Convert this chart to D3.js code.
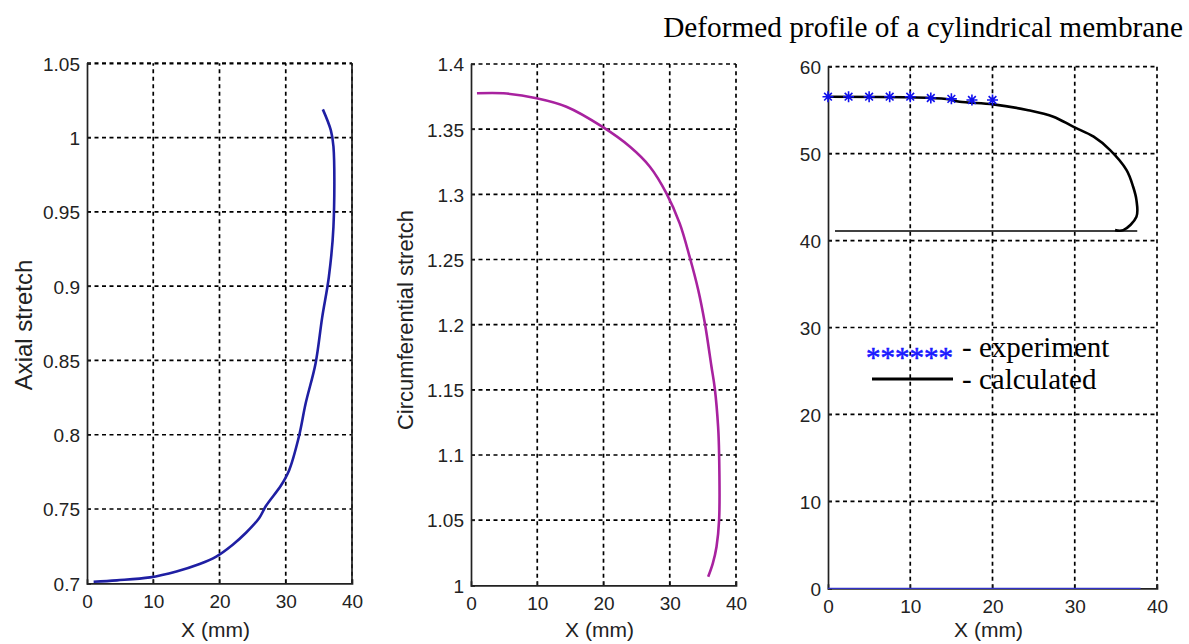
<!DOCTYPE html>
<html><head><meta charset="utf-8">
<script src="https://cdn.jsdelivr.net/npm/d3@7"></script>
<style>
body{margin:0;background:#fff;}
svg{display:block;}
.tick text{font-family:"Liberation Sans",Arial,sans-serif;}
</style></head>
<body><svg id="c" width="1189" height="644"></svg>
<script>
// ---- data ----
const xTicks = [0,10,20,30,40];
const axialTicks = [0.7,0.75,0.8,0.85,0.9,0.95,1,1.05];
const circTicks = [1,1.05,1.1,1.15,1.2,1.25,1.3,1.35,1.4];
const profTicks = [0,10,20,30,40,50,60];

const axialX = [1.0,4.5,9.5,13.5,17.0,19.5,22.0,24.0,26.0,27.0,29.3,30.5,32.0,33.0,34.5,35.5,36.5,37.2,37.2,36.8,35.6];
const axialY = [0.701,0.702,0.704,0.708,0.713,0.718,0.726,0.734,0.744,0.752,0.766,0.776,0.799,0.821,0.848,0.879,0.906,0.940,0.994,1.005,1.019];

const circX = [0.9,4.9,9.9,14.4,19.8,24.0,27.0,29.5,31.5,33.0,34.3,35.3,36.3,36.8,37.3,37.45,37.45,37.06,36.5,35.8];
const circY = [1.3775,1.3775,1.3737,1.3672,1.3519,1.3365,1.3212,1.3008,1.2777,1.2521,1.2266,1.201,1.1677,1.151,1.1216,1.101,1.05,1.0296,1.0168,1.0065];

const profX = [0.2,10.0,14.4,16.0,20.1,24.2,27.4,29.8,32.3,34.3,36.3,37.1,37.5,37.5,35.9,34.9];
const profY = [56.55,56.48,56.28,55.97,55.67,55.02,54.25,53.1,51.95,50.41,48.11,46.19,44.66,42.74,41.2,41.2];

const baseX = [0.85,37.6];
const baseY = [41.1,41.1];
const zeroX = [0,38];
const zeroY = [0,0];

const expX = [0,2.5,5,7.5,10,12.5,15,17.5,20];
const expY = [56.55,56.55,56.55,56.55,56.55,56.4,56.3,56.17,56.17];

const titleText = "Deformed profile of a cylindrical membrane";
const legendExp = "- experiment";
const legendCalc = "- calculated";

// ---- drawing ----
const svg = d3.select("#c");
const sans = '"Liberation Sans",Arial,sans-serif';
const serif = '"Liberation Serif","Times New Roman",serif';

function panel(cfg){
  const x = d3.scaleLinear().domain([0,40]).range([cfg.x0,cfg.x1]);
  const y = d3.scaleLinear().domain(cfg.yDom).range([cfg.yBot,cfg.yTop]);
  const g = svg.append("g");
  g.selectAll(".gx").data(xTicks.filter(t=>t>0)).enter().append("line")
    .attr("x1",d=>x(d)).attr("x2",d=>x(d)).attr("y1",cfg.yBot).attr("y2",cfg.yTop)
    .attr("stroke","#000").attr("stroke-width",1.7).attr("stroke-dasharray","4,3.5");
  g.selectAll(".gy").data(cfg.yTicks.filter(t=>t>cfg.yDom[0])).enter().append("line")
    .attr("x1",cfg.x0).attr("x2",cfg.x1).attr("y1",d=>y(d)).attr("y2",d=>y(d))
    .attr("stroke","#000").attr("stroke-width",d=>(d===cfg.yDom[1]&&cfg.boxRight)?2.3:1.7).attr("stroke-dasharray","4,3.5");
  const ax = g.append("g").attr("transform",`translate(0,${cfg.yBot})`)
    .call(d3.axisBottom(x).tickValues(xTicks).tickSize(-4).tickPadding(11).tickFormat(d3.format("d")));
  const ay = g.append("g").attr("transform",`translate(${cfg.x0},0)`)
    .call(d3.axisLeft(y).tickValues(cfg.yTicks).tickSize(-4).tickPadding(7).tickFormat(d=>String(+d.toFixed(2))));
  [ax,ay].forEach(a=>{
    a.select(".domain").attr("stroke","#222").attr("stroke-width",1.7);
    a.selectAll(".tick line").attr("stroke","#222");
    a.selectAll(".tick text").attr("font-size",19).attr("fill","#222").attr("font-family",sans);
  });
  ay.selectAll(".tick text").attr("dy","0.36em");
  if(cfg.boxRight){
    g.append("line").attr("x1",cfg.x1).attr("x2",cfg.x1).attr("y1",cfg.yTop).attr("y2",cfg.yBot)
      .attr("stroke","#222").attr("stroke-width",1.7);
  }
  g.append("text").attr("x",(cfg.x0+cfg.x1)/2-4).attr("y",637).attr("text-anchor","middle")
    .attr("font-family",sans).attr("font-size",21).attr("fill","#222").text("X (mm)");
  if(cfg.ylabel){
    g.append("text").attr("transform",`translate(${cfg.ylx},${cfg.yly}) rotate(-90)`).attr("text-anchor","middle")
      .attr("font-family",sans).attr("font-size",cfg.ylfs).attr("fill","#222").text(cfg.ylabel);
  }
  return {g,x,y};
}

const line = (sx,sy)=>d3.line().x(d=>sx(d[0])).y(d=>sy(d[1])).curve(d3.curveCatmullRom.alpha(0.5));
const straight = (sx,sy)=>d3.line().x(d=>sx(d[0])).y(d=>sy(d[1]));

const p1 = panel({x0:87,x1:352,yTop:63.3,yBot:583.3,yDom:[0.7,1.05],yTicks:axialTicks,boxRight:true,
  ylabel:"Axial stretch",ylx:32,yly:325,ylfs:24});
p1.g.append("path").datum(axialX.map((v,i)=>[v,axialY[i]])).attr("d",line(p1.x,p1.y))
  .attr("fill","none").attr("stroke","#1f1fa3").attr("stroke-width",2.6);

const p2 = panel({x0:471,x1:736,yTop:64,yBot:585.3,yDom:[1,1.4],yTicks:circTicks,boxRight:false,
  ylabel:"Circumferential stretch",ylx:413,yly:320,ylfs:22});
p2.g.append("path").datum(circX.map((v,i)=>[v,circY[i]])).attr("d",line(p2.x,p2.y))
  .attr("fill","none").attr("stroke","#a8229f").attr("stroke-width",2.6);

const p3 = panel({x0:828,x1:1157,yTop:66.7,yBot:588.3,yDom:[0,60],yTicks:profTicks,boxRight:false});
p3.g.append("path").datum(zeroX.map((v,i)=>[v,zeroY[i]])).attr("d",straight(p3.x,p3.y))
  .attr("fill","none").attr("stroke","#3232c8").attr("stroke-width",1.2);
p3.g.append("path").datum(baseX.map((v,i)=>[v,baseY[i]])).attr("d",straight(p3.x,p3.y))
  .attr("fill","none").attr("stroke","#000").attr("stroke-width",1.6);
p3.g.append("path").datum(profX.map((v,i)=>[v,profY[i]])).attr("d",line(p3.x,p3.y))
  .attr("fill","none").attr("stroke","#000").attr("stroke-width",2.6);
const r = 5.5;
const star = `M${-r},0L${r},0M0,${-r}L0,${r}M${-r*0.7},${-r*0.7}L${r*0.7},${r*0.7}M${-r*0.7},${r*0.7}L${r*0.7},${-r*0.7}`;
p3.g.selectAll(".star").data(expX.map((v,i)=>[v,expY[i]])).enter().append("path")
  .attr("transform",d=>`translate(${p3.x(d[0])},${p3.y(d[1])})`).attr("d",star)
  .attr("stroke","#1010ee").attr("stroke-width",1.6).attr("fill","none");

svg.append("text").attr("x",1183).attr("y",37).attr("text-anchor","end")
  .attr("font-family",serif).attr("font-size",29.3).attr("fill","#000").text(titleText);

svg.append("text").attr("x",866).attr("y",367).attr("font-family",serif).attr("font-size",29)
  .attr("fill","#1a1aff").attr("stroke","#1a1aff").attr("stroke-width",0.6).text("******");
svg.append("text").attr("x",962).attr("y",357).attr("font-family",serif).attr("font-size",29)
  .attr("fill","#000").text(legendExp);
svg.append("line").attr("x1",872).attr("x2",953).attr("y1",379).attr("y2",379)
  .attr("stroke","#000").attr("stroke-width",3.2);
svg.append("text").attr("x",962).attr("y",389).attr("font-family",serif).attr("font-size",29)
  .attr("fill","#000").text(legendCalc);
</script></body></html>
